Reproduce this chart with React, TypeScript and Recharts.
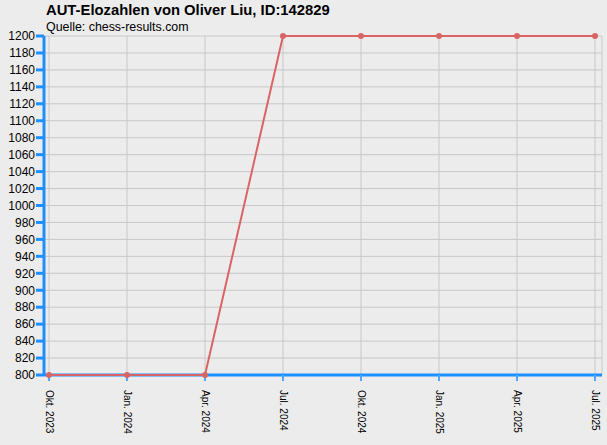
import React from "react";
import { CartesianGrid, Line, LineChart, XAxis, YAxis } from "recharts";

const periods = ["Okt. 2023", "Jan. 2024", "Apr. 2024", "Jul. 2024", "Okt. 2024", "Jan. 2025", "Apr. 2025", "Jul. 2025"];
const elo = [800, 800, 800, 1200, 1200, 1200, 1200, 1200];
const yTicks = [800, 820, 840, 860, 880, 900, 920, 940, 960, 980, 1000, 1020, 1040, 1060, 1080, 1100, 1120, 1140, 1160, 1180, 1200];

const data = periods.map((period, i) => ({ period, elo: elo[i] }));

const FONT = "'Liberation Sans', Arial, sans-serif";
const BLUE = "#1e8fff";
const RED = "#d96464";

function DateTick(props: any) {
  const { x, y, payload } = props;
  return (
    <text
      x={x}
      y={y + 7}
      transform={`rotate(90 ${x} ${y + 7})`}
      dy="0.35em"
      textAnchor="start"
      fontSize={10}
      fontFamily={FONT}
      fill="#000"
    >
      {payload.value}
    </text>
  );
}

export default function App() {
  return (
    <div style={{ position: "absolute", left: 0, top: 0, width: 607, height: 445, background: "#ececec", fontFamily: FONT }}>
      <div style={{ position: "absolute", left: 46, top: 2, fontSize: 14.8, fontWeight: "bold", color: "#000" }}>
        AUT-Elozahlen von Oliver Liu, ID:142829
      </div>
      <div style={{ position: "absolute", left: 46, top: 20, fontSize: 12.4, color: "#000" }}>
        Quelle: chess-results.com
      </div>
      <LineChart width={607} height={445} data={data} margin={{ top: 36, right: 5, bottom: 0, left: 0 }}>
        <CartesianGrid stroke="#c8c8c8" strokeWidth={1} />
        <XAxis
          dataKey="period"
          padding={{ left: 5, right: 7 }}
          height={70}
          interval={0}
          axisLine={{ stroke: BLUE, strokeWidth: 3 }}
          tickLine={{ stroke: "#4aa6ff", strokeWidth: 2 }}
          tickSize={6}
          tick={<DateTick />}
        />
        <YAxis
          width={44}
          domain={[800, 1200]}
          ticks={yTicks}
          interval={0}
          axisLine={{ stroke: BLUE, strokeWidth: 3 }}
          tickLine={{ stroke: BLUE, strokeWidth: 3 }}
          tickSize={8}
          tickMargin={1}
          tick={{ fill: "#000", fontSize: 12, fontFamily: FONT }}
        />
        <Line
          type="linear"
          dataKey="elo"
          stroke={RED}
          strokeWidth={2}
          dot={{ r: 3, fill: RED, stroke: RED, strokeWidth: 0 }}
          activeDot={false}
          isAnimationActive={false}
          zIndex={700}
        />
      </LineChart>
    </div>
  );
}
